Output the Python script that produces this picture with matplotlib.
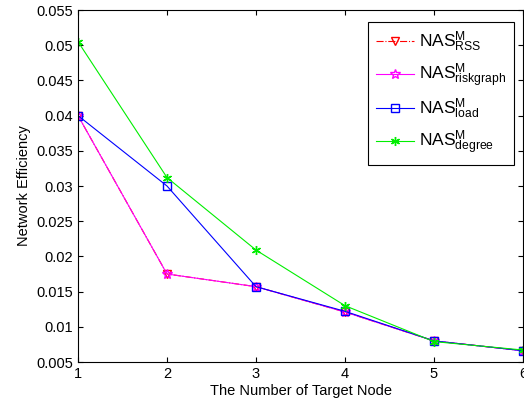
import matplotlib
matplotlib.use("Agg")
import matplotlib.pyplot as plt

plt.rcParams['font.family'] = ['Liberation Sans', 'DejaVu Sans']
plt.rcParams['mathtext.fontset'] = 'custom'
plt.rcParams['mathtext.rm'] = 'Liberation Sans'
plt.rcParams['mathtext.it'] = 'Liberation Sans:italic'

# data
targets = [1, 2, 3, 4, 5, 6]
rss = [0.0400, 0.0175, 0.0157, 0.0121, 0.0080, 0.0066]
riskgraph = [0.0400, 0.0175, 0.0157, 0.0121, 0.0080, 0.0066]
load = [0.0400, 0.0300, 0.0157, 0.0122, 0.0080, 0.0066]
degree = [0.0505, 0.0312, 0.0209, 0.0130, 0.0079, 0.0067]
yticks = [0.005, 0.01, 0.015, 0.02, 0.025, 0.03, 0.035, 0.04, 0.045, 0.05, 0.055]
ytick_labels = ['0.005', '0.01', '0.015', '0.02', '0.025', '0.03', '0.035', '0.04', '0.045', '0.05', '0.055']

fig = plt.figure(figsize=(5.24, 4.07), dpi=100)
ax = fig.add_axes([78 / 524, 1 - 362 / 407, (523 - 78) / 524, (362 - 10) / 407])

ax.plot(targets, rss, color='red', linestyle='-.', marker='v', markersize=6,
        markerfacecolor='none', linewidth=0.8, label=r'NAS$^{\mathrm{M}}_{\mathrm{RSS}}$')
ax.plot(targets, riskgraph, color='magenta', linestyle='-', marker='*', markersize=7,
        markerfacecolor='none', linewidth=0.8, label=r'NAS$^{\mathrm{M}}_{\mathrm{riskgraph}}$')
ax.plot(targets, load, color='blue', linestyle='-', marker='s', markersize=5.5,
        markerfacecolor='none', linewidth=0.8, label=r'NAS$^{\mathrm{M}}_{\mathrm{load}}$')
ax.plot(targets, degree, color='#00ee00', linestyle='-', marker=(6, 2, 0), markersize=6.5,
        linewidth=0.8, label=r'NAS$^{\mathrm{M}}_{\mathrm{degree}}$')

ax.set_xlim(1, 6)
ax.set_ylim(0.005, 0.055)
ax.set_xticks(targets)
ax.set_yticks(yticks)
ax.set_yticklabels(ytick_labels)
ax.tick_params(direction='in', top=True, right=True, labelsize=10.5)
ax.set_xlabel('The Number of Target Node', fontsize=10.5, labelpad=2)
ax.set_ylabel('Network Efficiency', fontsize=10.5)
for s in ax.spines.values():
    s.set_linewidth(0.8)

leg = ax.legend(loc='upper right', bbox_to_anchor=(0.980, 0.966), borderaxespad=0,
                fontsize=12.5, fancybox=False, edgecolor='black', framealpha=1,
                handlelength=2.2, handletextpad=0.3, labelspacing=0.42, borderpad=0.45)
leg.get_frame().set_linewidth(0.8)

plt.savefig('out.png', dpi=100)
